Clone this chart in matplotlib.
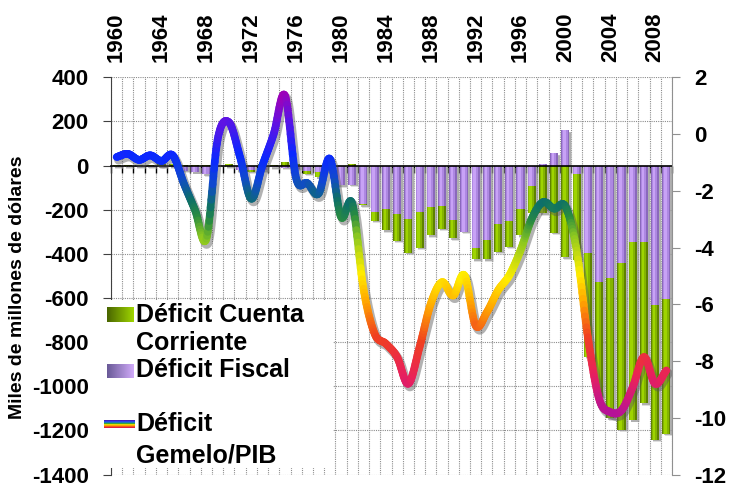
import numpy as np
import matplotlib
matplotlib.use("Agg")
import matplotlib.pyplot as plt
from matplotlib.collections import LineCollection
from matplotlib.colors import LinearSegmentedColormap, Normalize
from matplotlib.patches import Rectangle
from matplotlib.transforms import offset_copy

plt.rcParams['font.family'] = ['Liberation Sans', 'DejaVu Sans']
plt.rcParams['font.weight'] = 'bold'
plt.rcParams['axes.unicode_minus'] = False

# datos
years = list(range(1960, 2010))

# deficit fiscal (miles de millones de dolares)
deficit_fiscal = [-3, -4, -6, -5, -6, -3, -24, -29, -39, 2,
                  -4, -20, -20, -21, -8, -10, -15, -25, -29, -25,
                  -89, -87, -172, -210, -199, -220, -243, -211, -190, -184,
                  -248, -300, -373, -338, -266, -252, -195, -94, 7, 56,
                  160, -39, -398, -527, -511, -443, -346, -346, -632, -606]

# deficit cuenta corriente (miles de millones de dolares)
deficit_cuenta = [3, 2, 3, 4, 6, 5, 3, 2, 1, -1,
                  5, -1, -8, 5, 2, 18, 5, -11, -23, -1,
                  0, 5, -8, -41, -94, -121, -152, -162, -125, -103,
                  -82, 0, -52, -87, -125, -116, -120, -120, -217, -305,
                  -416, -389, -468, -520, -634, -755, -807, -731, -611, -610]

# deficit gemelo / PIB (%)
deficit_gemelo = [-0.81, -0.70, -0.91, -0.75, -0.95, -0.75, -1.75, -2.69, -3.69, -0.2,
                  0.42, -0.81, -2.28, -1.10, 0.0, 1.36, -1.56, -1.73, -2.10, -0.87,
                  -2.92, -2.45, -5.45, -7.04, -7.39, -7.86, -8.80, -7.51, -5.98, -5.22,
                  -5.69, -4.98, -6.75, -6.28, -5.51, -4.98, -4.10, -2.98, -2.40, -2.63,
                  -2.55, -4.10, -7.16, -9.33, -9.80, -9.74, -8.92, -7.86, -8.80, -8.33]

year_labels = [str(y) for y in years[::4]]


def suave(xs, ys, n=16):
    # curva suavizada tipo Catmull-Rom (como la linea suavizada de Excel)
    px = np.concatenate([[2 * xs[0] - xs[1]], xs, [2 * xs[-1] - xs[-2]]])
    py = np.concatenate([[2 * ys[0] - ys[1]], ys, [2 * ys[-1] - ys[-2]]])
    t = np.linspace(0, 1, n, endpoint=False)
    ox, oy = [], []
    for i in range(1, len(px) - 2):
        for p, o in ((px, ox), (py, oy)):
            p0, p1, p2, p3 = p[i - 1], p[i], p[i + 1], p[i + 2]
            o.extend(0.5 * (2 * p1 + (-p0 + p2) * t + (2 * p0 - 5 * p1 + 4 * p2 - p3) * t ** 2
                            + (-p0 + 3 * p1 - 3 * p2 + p3) * t ** 3))
    ox.append(xs[-1])
    oy.append(ys[-1])
    return np.array(ox), np.array(oy)


fig = plt.figure(figsize=(7.29, 4.86), dpi=100)
ax = fig.add_axes([111 / 729, 1 - 474.5 / 486, 561 / 729, 397.2 / 486])
ax2 = ax.twinx()

x = np.arange(len(years))
fis = np.array(deficit_fiscal, float)
cc = np.array(deficit_cuenta, float)
cc_bottom = np.where(np.sign(cc) == np.sign(fis), fis, 0)

lower = np.minimum.reduce([np.zeros_like(fis), fis, cc_bottom + cc])
upper = np.maximum.reduce([np.zeros_like(fis), fis, cc_bottom + cc])

# sombras
ax.bar(x + 0.24, upper - lower, bottom=lower - 11, width=0.78, color='#b8b8b8', alpha=0.45, linewidth=0)
ax.bar(x + 0.18, upper - lower, bottom=lower - 7, width=0.72, color='#888888', alpha=0.55, linewidth=0)


def barras(bottom, height, colores):
    for w, dx, c in zip([0.72, 0.5, 0.22], [0, -0.05, -0.1], colores):
        ax.bar(x + dx, height, width=w, bottom=bottom, color=c, linewidth=0)


barras(0, fis, ['#8a68bc', '#ae88e2', '#c8a2f6'])
barras(cc_bottom, cc, ['#5f8200', '#84b400', '#9ed400'])

ax.set_xlim(-0.5, len(years) - 0.5)
ax.set_ylim(-1400, 400)
ax.set_yticks(np.arange(-1400, 401, 200))
ax2.set_ylim(-12, 2)
ax2.set_yticks(np.arange(-12, 3, 2))

ax.set_xticks(np.arange(-0.5, len(years), 1))
ax.set_xticklabels([])
ax.set_xticks(x[::4], minor=True)
ax.set_xticklabels(year_labels, minor=True)
ax.tick_params(axis='x', which='major', bottom=True, top=False, labelbottom=False,
               direction='out', length=5, color='black', width=1)
ax.tick_params(axis='x', which='minor', bottom=False, top=False, labelbottom=False,
               labeltop=True, length=0, pad=11, labelsize=16, labelrotation=90)
ax.tick_params(axis='y', labelsize=16, length=6, color='#404040', pad=10)
ax2.tick_params(axis='y', labelsize=16, length=6, color='#909090', pad=10)

ax.grid(True, which='major', color='#8c8c8c', linestyle=(0, (1, 1)), linewidth=0.8)
ax.set_axisbelow(True)

ax.spines['bottom'].set_position(('data', 0))
ax.spines['bottom'].set_color('black')
ax.spines['bottom'].set_linewidth(1.2)
ax.spines['top'].set_visible(False)
ax.spines['right'].set_visible(False)
ax.spines['left'].set_color('#404040')
for s in ['top', 'left', 'bottom']:
    ax2.spines[s].set_visible(False)
ax2.spines['right'].set_color('#909090')

# linea del deficit gemelo
sx, sy = suave(x.astype(float), np.array(deficit_gemelo))
sombra = offset_copy(ax2.transData, fig=fig, x=2, y=-3, units='dots')
ax2.plot(sx, sy, color='#555555', alpha=0.45, linewidth=6.5, solid_capstyle='round',
         transform=sombra)

colores = LinearSegmentedColormap.from_list('gemelo', [
    (0.0, '#b0109e'), (0.122, '#e8205e'), (0.243, '#f04020'), (0.348, '#ffa800'),
    (0.435, '#ffee00'), (0.548, '#8cc820'), (0.609, '#2a8c40'), (0.661, '#0e7068'),
    (0.730, '#1048d0'), (0.8, '#0a28ff'), (0.904, '#5a14e6'), (1.0, '#a400b4')])
pts = np.column_stack([sx, sy]).reshape(-1, 1, 2)
segs = np.concatenate([pts[:-1], pts[1:]], axis=1)
lc = LineCollection(segs, cmap=colores, norm=Normalize(-10, 1.5), linewidths=5.5,
                    capstyle='round')
lc.set_array((sy[:-1] + sy[1:]) / 2)
ax2.add_collection(lc)

fig.text(18 / 729, 1 - 287 / 486, 'Miles de millones de dólares', rotation=90,
         va='center', ha='center', fontsize=14, weight='bold')

# leyenda
fig.add_artist(Rectangle((99 / 729, 1 - 468 / 486), (333 - 99) / 729, (468 - 300) / 486,
                         transform=fig.transFigure, facecolor='white', edgecolor='none', zorder=2))


def muestra(x0, y0, w, h, img):
    a = fig.add_axes([x0 / 729, 1 - (y0 + h) / 486, w / 729, h / 486], zorder=5)
    a.imshow(img, aspect='auto', interpolation='bilinear')
    a.axis('off')


verde = LinearSegmentedColormap.from_list('v', ['#4a6600', '#9ed400'])
morado = LinearSegmentedColormap.from_list('m', ['#6a5a98', '#cfaaf8'])
grad = np.linspace(0, 1, 30)[None, :]
muestra(107, 307, 26, 15, verde(grad))
muestra(107, 364, 26, 14, morado(grad))
arco = np.array([[0x40, 0x20, 0xc0], [0x20, 0x60, 0xff], [0x20, 0xa0, 0x40],
                 [0xff, 0xe0, 0x00], [0xff, 0x80, 0x00], [0xe0, 0x20, 0x40]]) / 255
muestra(104, 420, 31, 8, np.repeat(arco[:, None, :], 10, axis=1))

for txt, yy in [('Déficit Cuenta', 315), ('Corriente', 343), ('Déficit Fiscal', 370),
                ('Déficit', 424), ('Gemelo/PIB', 455)]:
    fig.text(136 / 729, 1 - yy / 486, txt, va='center', ha='left', fontsize=18,
             weight='bold', zorder=6)

fig.savefig('out.png', dpi=100)
